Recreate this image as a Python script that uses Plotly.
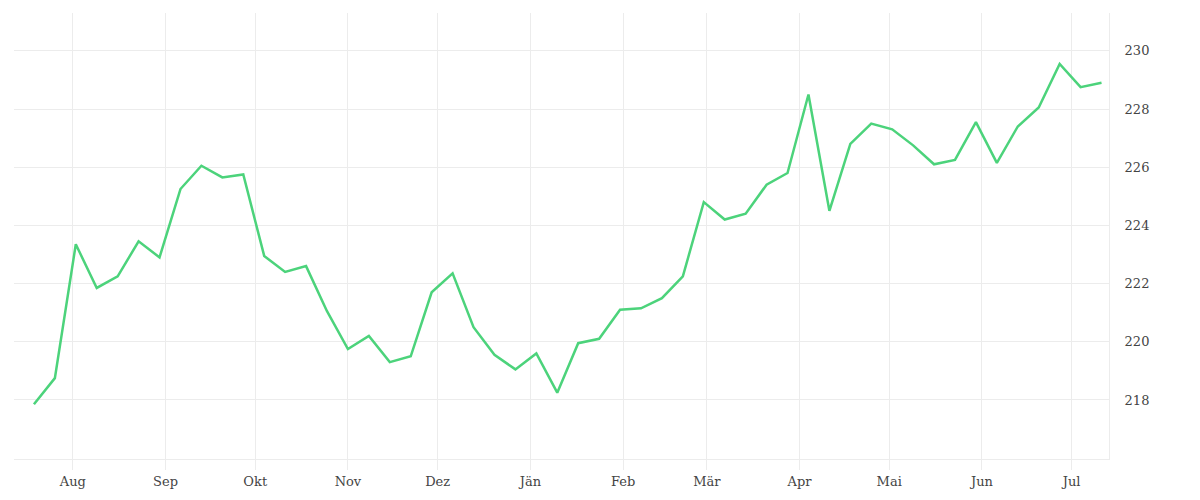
import plotly.graph_objects as go
import pandas as pd

start_date = "2022-07-19"
values = [217.85, 218.75, 223.35, 221.85, 222.25, 223.45, 222.9, 225.25, 226.05, 225.65,
          225.75, 222.95, 222.4, 222.6, 221.05, 219.75, 220.2, 219.3, 219.5, 221.7,
          222.35, 220.5, 219.55, 219.05, 219.6, 218.25, 219.95, 220.1, 221.1, 221.15,
          221.5, 222.25, 224.8, 224.2, 224.4, 225.4, 225.8, 228.5, 224.5, 226.8,
          227.5, 227.3, 226.75, 226.1, 226.25, 227.55, 226.15, 227.4, 228.05, 229.55,
          228.75, 228.9]
dates = pd.date_range(start_date, periods=len(values), freq="7D")
tick_dates = pd.date_range("2022-08-01", "2023-07-01", freq="MS")
tick_labels = ["Aug", "Sep", "Okt", "Nov", "Dez", "Jän", "Feb", "Mär", "Apr", "Mai", "Jun", "Jul"]
y_ticks = [216, 218, 220, 222, 224, 226, 228, 230]

fig = go.Figure(go.Scatter(x=dates, y=values, mode="lines",
                           line=dict(color="#4cd37b", width=2.5)))
grid = "#ececec"
fig.update_layout(
    width=1200, height=500, plot_bgcolor="white", paper_bgcolor="white",
    margin=dict(l=6, r=99, t=5, b=49, autoexpand=False), showlegend=False,
    font=dict(family="DejaVu Serif", size=13, color="#444"),
    xaxis=dict(range=[pd.Timestamp("2022-07-12 08:00"), pd.Timestamp("2023-07-13 12:00")],
               tickvals=tick_dates, ticktext=tick_labels, showgrid=True, gridcolor=grid,
               ticks="outside", ticklen=10, tickcolor=grid, showline=True, linecolor=grid,
               zeroline=False, automargin=False),
    yaxis=dict(side="right", range=[215.97, 231.3], tickvals=y_ticks,
               ticktext=[str(v) if v != 216 else "" for v in y_ticks],
               showgrid=True, gridcolor=grid, showline=True, linecolor=grid,
               zeroline=False, ticks="", ticklabelstandoff=12, automargin=False),
)
fig.write_html("out.html")
